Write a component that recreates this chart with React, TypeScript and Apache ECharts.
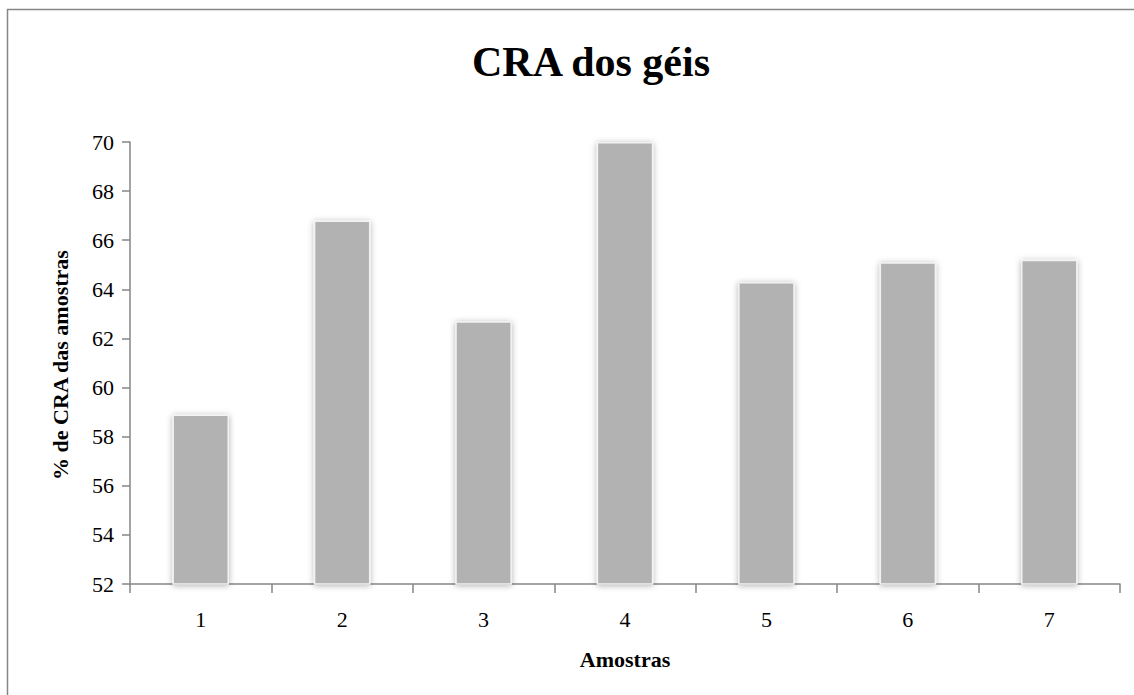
import React, { useEffect, useRef } from "react";
import * as echarts from "echarts";

const categories = ["1", "2", "3", "4", "5", "6", "7"];
const craValues = [58.9, 66.8, 62.7, 70.0, 64.3, 65.1, 65.2];
const yMin = 52;
const yMax = 70;
const yStep = 2;

const titleText = "CRA dos géis";
const yName = "% de CRA das amostras";
const xName = "Amostras";

const serif = "'Liberation Serif', 'Times New Roman', serif";
const axisGray = "#868686";

export default function App() {
  const ref = useRef<HTMLDivElement>(null);

  useEffect(() => {
    if (!ref.current) return;
    const chart = echarts.init(ref.current, null, { renderer: "svg" });
    chart.setOption({
      animation: false,
      backgroundColor: "#ffffff",
      grid: { left: 130, right: 14, top: 142, bottom: 111 },
      graphic: [
        {
          type: "rect",
          shape: { x: 7.5, y: 9.5, width: 1140, height: 700 },
          style: { fill: "none", stroke: axisGray, lineWidth: 1.5 },
          silent: true,
        },
        {
          type: "text",
          x: 591,
          y: 62,
          style: {
            text: titleText,
            font: `bold 42px ${serif}`,
            fill: "#000000",
            textAlign: "center",
            textVerticalAlign: "middle",
          },
        },
        {
          type: "text",
          x: 60,
          y: 365,
          rotation: Math.PI / 2,
          style: {
            text: yName,
            font: `bold 22px ${serif}`,
            fill: "#000000",
            textAlign: "center",
            textVerticalAlign: "middle",
          },
        },
        {
          type: "text",
          x: 625,
          y: 659,
          style: {
            text: xName,
            font: `bold 22px ${serif}`,
            fill: "#000000",
            textAlign: "center",
            textVerticalAlign: "middle",
          },
        },
      ],
      xAxis: {
        type: "category",
        data: categories,
        boundaryGap: true,
        axisLine: { show: true, lineStyle: { color: axisGray, width: 1.5 } },
        axisTick: {
          show: true,
          alignWithLabel: false,
          interval: 0,
          length: 9,
          lineStyle: { color: axisGray, width: 1.5 },
        },
        axisLabel: {
          color: "#000000",
          fontFamily: serif,
          fontSize: 22,
          margin: 24,
        },
        splitLine: { show: false },
      },
      yAxis: {
        type: "value",
        min: yMin,
        max: yMax,
        interval: yStep,
        axisLine: { show: true, lineStyle: { color: axisGray, width: 1.5 } },
        axisTick: {
          show: true,
          length: 8,
          lineStyle: { color: axisGray, width: 1.5 },
        },
        axisLabel: {
          color: "#000000",
          fontFamily: serif,
          fontSize: 22,
          margin: 16,
        },
        splitLine: { show: false },
      },
      series: [
        {
          type: "bar",
          data: craValues,
          barWidth: "40%",
          itemStyle: {
            color: "#b2b2b2",
            borderColor: "#f2f2f2",
            borderWidth: 1.5,
            shadowBlur: 6,
            shadowColor: "rgba(0,0,0,0.3)",
            shadowOffsetX: 0,
            shadowOffsetY: 1,
          },
        },
      ],
    });
    return () => chart.dispose();
  }, []);

  return (
    <div
      ref={ref}
      style={{ position: "absolute", left: 0, top: 0, width: 1134, height: 695 }}
    />
  );
}
